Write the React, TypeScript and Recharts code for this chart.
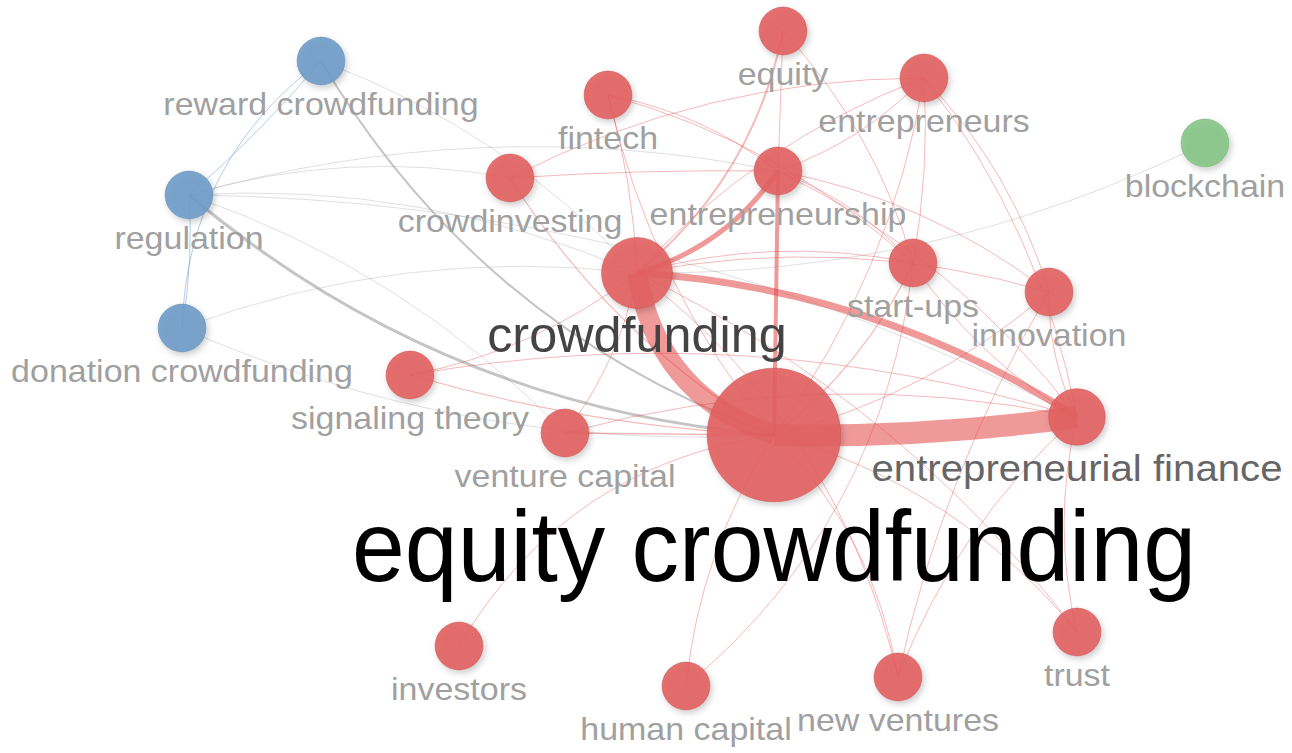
import { Scatter, ScatterChart, XAxis, YAxis } from "recharts";

const W = 1292;
const H = 753;

// keyword map (VOSviewer co-occurrence network)
const LABELS = [
  "equity crowdfunding",
  "crowdfunding",
  "entrepreneurial finance",
  "entrepreneurship",
  "equity",
  "fintech",
  "crowdinvesting",
  "entrepreneurs",
  "start-ups",
  "innovation",
  "signaling theory",
  "venture capital",
  "investors",
  "human capital",
  "new ventures",
  "trust",
  "reward crowdfunding",
  "regulation",
  "donation crowdfunding",
  "blockchain",
];
const MAP_X = [774, 637, 1077, 778, 783, 608, 510, 924, 913, 1049, 410, 565, 459, 686, 898, 1077, 321, 189, 182, 1205];
const MAP_Y = [435, 273, 417, 171, 31, 95, 178, 78, 263, 292, 375, 433, 646, 686, 677, 632, 61, 195, 328, 143];
const OCCURRENCES = [39, 11, 7, 5, 5, 5, 5, 5, 5, 5, 5, 5, 5, 5, 5, 5, 5, 5, 5, 5];
const CLUSTER = [1, 1, 1, 1, 1, 1, 1, 1, 1, 1, 1, 1, 1, 1, 1, 1, 2, 2, 2, 3];

// links: [source, target, link strength]
const LINKS: [string, string, number][] = [
  ["equity crowdfunding", "regulation", 3],
  ["equity crowdfunding", "reward crowdfunding", 2],
  ["regulation", "crowdfunding", 1],
  ["regulation", "crowdinvesting", 1],
  ["regulation", "venture capital", 1],
  ["regulation", "entrepreneurship", 1],
  ["regulation", "entrepreneurial finance", 1],
  ["reward crowdfunding", "crowdfunding", 1],
  ["donation crowdfunding", "crowdfunding", 1],
  ["equity crowdfunding", "donation crowdfunding", 1],
  ["blockchain", "crowdfunding", 1],
  ["reward crowdfunding", "regulation", 1],
  ["regulation", "donation crowdfunding", 1],
  ["donation crowdfunding", "reward crowdfunding", 1],
  ["equity crowdfunding", "signaling theory", 1.2],
  ["equity crowdfunding", "venture capital", 1.5],
  ["investors", "equity crowdfunding", 1],
  ["human capital", "equity crowdfunding", 1],
  ["start-ups", "human capital", 1],
  ["equity crowdfunding", "new ventures", 1],
  ["crowdfunding", "new ventures", 1],
  ["new ventures", "innovation", 1],
  ["equity crowdfunding", "trust", 1],
  ["crowdfunding", "trust", 1],
  ["innovation", "equity crowdfunding", 1],
  ["start-ups", "equity crowdfunding", 1.2],
  ["entrepreneurs", "equity crowdfunding", 1],
  ["equity crowdfunding", "fintech", 1],
  ["equity crowdfunding", "crowdinvesting", 1.2],
  ["fintech", "crowdfunding", 1],
  ["crowdfunding", "venture capital", 1],
  ["crowdfunding", "signaling theory", 1],
  ["crowdfunding", "start-ups", 1],
  ["crowdfunding", "innovation", 1],
  ["crowdfunding", "entrepreneurs", 1],
  ["entrepreneurial finance", "start-ups", 1],
  ["entrepreneurial finance", "innovation", 1],
  ["entrepreneurs", "entrepreneurial finance", 1],
  ["entrepreneurship", "entrepreneurial finance", 1],
  ["venture capital", "entrepreneurial finance", 1],
  ["signaling theory", "entrepreneurial finance", 1],
  ["new ventures", "entrepreneurial finance", 1],
  ["trust", "entrepreneurial finance", 1],
  ["crowdinvesting", "entrepreneurship", 1],
  ["fintech", "entrepreneurship", 1],
  ["entrepreneurs", "entrepreneurship", 1],
  ["entrepreneurship", "start-ups", 1],
  ["entrepreneurship", "innovation", 1],
  ["crowdinvesting", "entrepreneurs", 1],
  ["entrepreneurs", "start-ups", 1],
  ["entrepreneurs", "innovation", 1],
  ["equity", "entrepreneurship", 1],
  ["equity", "start-ups", 1],
  ["fintech", "start-ups", 1],
  ["equity", "crowdfunding", 2],
  ["entrepreneurship", "crowdfunding", 5],
  ["equity crowdfunding", "entrepreneurship", 4],
  ["crowdfunding", "entrepreneurial finance", 7],
  ["equity crowdfunding", "crowdfunding", 20],
  ["entrepreneurial finance", "equity crowdfunding", 22],
];

// how far each arc bows (fraction of its length), default for the rest
const DEFAULT_BEND = 0.06;
const BEND: Record<string, number> = {
  "equity crowdfunding>crowdfunding": 0.15,
  "entrepreneurial finance>equity crowdfunding": 0.02,
  "crowdfunding>entrepreneurial finance": 0.065,
  "entrepreneurship>crowdfunding": 0.09,
  "equity crowdfunding>entrepreneurship": 0,
  "equity>crowdfunding": 0.09,
  "equity crowdfunding>regulation": 0.08,
  "equity crowdfunding>reward crowdfunding": 0.09,
  "equity crowdfunding>signaling theory": 0.03,
  "equity crowdfunding>venture capital": 0,
  "investors>equity crowdfunding": 0.12,
  "start-ups>human capital": 0.1,
  "equity crowdfunding>new ventures": 0.08,
  "crowdfunding>new ventures": 0.09,
  "new ventures>innovation": 0.04,
  "equity crowdfunding>trust": 0.08,
  "crowdinvesting>entrepreneurship": 0.01,
  "equity>entrepreneurship": 0,
  "reward crowdfunding>regulation": 0.02,
  "regulation>donation crowdfunding": 0.03,
  "donation crowdfunding>reward crowdfunding": 0.12,
  "entrepreneurs>start-ups": 0.03,
  "fintech>crowdfunding": 0.03,
};

const CLUSTER_FILL: Record<number, string> = { 1: "#e25f5f", 2: "#6e9bc8", 3: "#86c486" };
const CLUSTER_STROKE: Record<number, string> = { 1: "#c84a4a", 2: "#5a86b2", 3: "#6fae6f" };

const nodes = LABELS.map((label, i) => ({
  label,
  x: MAP_X[i],
  y: MAP_Y[i],
  occ: OCCURRENCES[i],
  cluster: CLUSTER[i],
}));
const byLabel = new Map(nodes.map((n) => [n.label, n]));

const radius = (occ: number) => 10.7 * Math.sqrt(occ);

function labelColor(occ: number) {
  if (occ >= 30) return "#000000";
  if (occ >= 10) return "#444444";
  if (occ >= 7) return "#666666";
  return "#a0a0a0";
}

function edgeStroke(a: number, b: number, strength: number) {
  if (a === b && a === 1) return strength > 2 ? "rgba(228,70,70,0.55)" : "rgba(228,70,70,0.38)";
  if (a === b && a === 2) return "rgba(110,155,200,0.5)";
  return strength > 1 ? "rgba(150,150,150,0.55)" : "rgba(150,150,150,0.3)";
}

function arcPath(points: { x: number; y: number }[], bend: number) {
  const [p, q] = points;
  const dx = q.x - p.x;
  const dy = q.y - p.y;
  const cx = (p.x + q.x) / 2 + 2 * bend * dy;
  const cy = (p.y + q.y) / 2 - 2 * bend * dx;
  return `M${p.x},${p.y} Q${cx},${cy} ${q.x},${q.y}`;
}

const NodeShape = (props: any) => {
  const { cx, cy, payload } = props;
  return (
    <circle
      cx={cx}
      cy={cy}
      r={radius(payload.occ)}
      fill={CLUSTER_FILL[payload.cluster]}
      fillOpacity={0.9}
      stroke={CLUSTER_STROKE[payload.cluster]}
      strokeOpacity={0.5}
      strokeWidth={1}
      filter="url(#nodeShadow)"
    />
  );
};

const LabelShape = (props: any) => {
  const { cx, cy, payload } = props;
  const r = radius(payload.occ);
  const fs = 1.6 * r - 7.5;
  const sx = (1.42 * r) / fs;
  const base = cy + r + 8 + 0.72 * fs;
  return (
    <text
      transform={`translate(${cx},${base}) scale(${sx},1)`}
      textAnchor="middle"
      fontSize={fs}
      fill={labelColor(payload.occ)}
      fontFamily="'Liberation Sans', Arial, Helvetica, sans-serif"
    >
      {payload.label}
    </text>
  );
};

const Hidden = () => <g />;

export default function App() {
  return (
    <div style={{ position: "absolute", left: 0, top: 0, width: W, height: H, background: "#fff" }}>
      <ScatterChart width={W} height={H} margin={{ top: 0, right: 0, bottom: 0, left: 0 }}>
        <defs>
          <filter id="nodeShadow" x="-50%" y="-50%" width="200%" height="200%">
            <feDropShadow dx="2" dy="3" stdDeviation="3" floodColor="#000" floodOpacity="0.22" />
          </filter>
        </defs>
        <XAxis type="number" dataKey="x" domain={[0, W]} hide />
        <YAxis type="number" dataKey="y" domain={[0, H]} reversed hide />
        {LINKS.map(([s, t, w]) => {
          const a = byLabel.get(s)!;
          const b = byLabel.get(t)!;
          const key = `${s}>${t}`;
          const bend = BEND[key] ?? DEFAULT_BEND;
          const stroke = edgeStroke(a.cluster, b.cluster, w);
          return (
            <Scatter
              key={key}
              data={[a, b]}
              shape={Hidden}
              line={(lp: any) => (
                <path d={arcPath(lp.points, bend)} fill="none" stroke={stroke} strokeWidth={w} />
              )}
              isAnimationActive={false}
            />
          );
        })}
        <Scatter data={nodes} shape={NodeShape} isAnimationActive={false} />
        <Scatter data={nodes} shape={LabelShape} isAnimationActive={false} />
      </ScatterChart>
    </div>
  );
}
